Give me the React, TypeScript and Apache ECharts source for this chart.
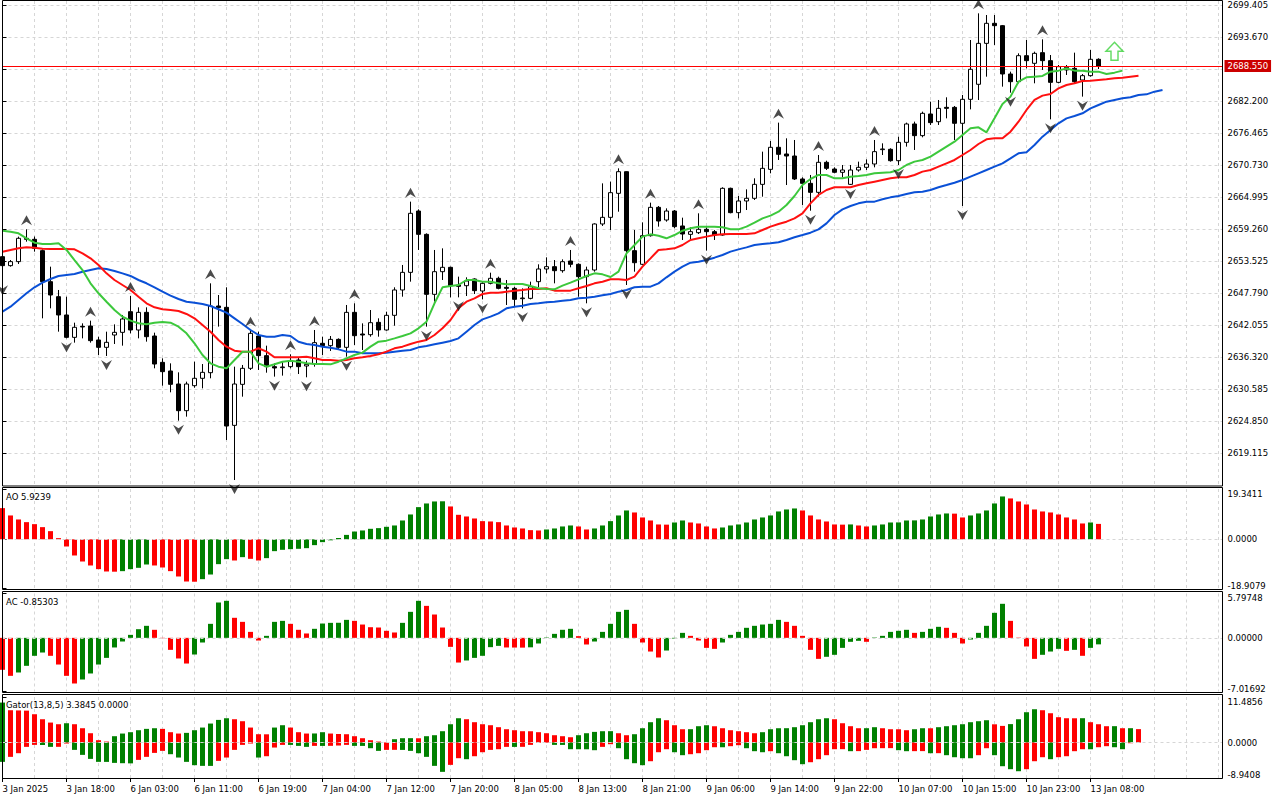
import React, { useEffect, useRef } from "react";
import * as echarts from "echarts";

// ---------- x axis (bar index j: 0 = first, partly hidden bar) ----------
const X_TICK_LABELS = [
  "3 Jan 2025", "3 Jan 18:00", "6 Jan 03:00", "6 Jan 11:00", "6 Jan 19:00", "7 Jan 04:00",
  "7 Jan 12:00", "7 Jan 20:00", "8 Jan 05:00", "8 Jan 13:00", "8 Jan 21:00", "9 Jan 06:00",
  "9 Jan 14:00", "9 Jan 22:00", "10 Jan 07:00", "10 Jan 15:00", "10 Jan 23:00", "13 Jan 08:00",
];
const BARS_PER_LABEL = 8;

// ---------- price axis ----------
const PRICE_TICKS = [
  2619.115, 2624.85, 2630.585, 2636.32, 2642.055, 2647.79, 2653.525, 2659.26,
  2664.995, 2670.73, 2676.465, 2682.2, 2687.935, 2693.67, 2699.405,
];
const PRICE_AXIS_MIN = 2613.29;
const PRICE_AXIS_MAX = 2700.21;
const LAST_PRICE = 2688.55;

// ---------- candles ----------
const OPEN = [
  2654.39, 2652.78, 2653.50, 2657.68, 2657.50, 2655.47, 2649.91, 2647.22, 2643.94, 2639.93,
  2641.90, 2641.96, 2639.46, 2638.14, 2640.35, 2640.83, 2644.53, 2641.25, 2644.41, 2640.17,
  2635.45, 2633.90, 2631.57, 2626.79, 2631.27, 2632.59, 2633.60, 2645.55, 2645.31, 2624.16,
  2631.51, 2634.38, 2640.17, 2636.65, 2634.68, 2634.50, 2634.68, 2635.87, 2634.80, 2635.15,
  2638.86, 2638.44, 2639.57, 2638.14, 2644.41, 2640.53, 2640.41, 2642.62, 2641.25, 2643.88,
  2648.42, 2651.58, 2662.57, 2658.39, 2647.64, 2651.70, 2652.48, 2649.31, 2649.19, 2650.39,
  2648.24, 2649.61, 2650.51, 2648.89, 2648.71, 2646.86, 2646.92, 2649.91, 2652.18, 2652.60,
  2651.88, 2653.61, 2653.02, 2650.81, 2652.00, 2660.25, 2661.44, 2665.74, 2669.62, 2655.47,
  2653.02, 2658.15, 2663.23, 2660.96, 2662.57, 2659.89, 2658.39, 2658.69, 2659.29, 2658.87,
  2658.27, 2666.64, 2662.28, 2664.37, 2664.85, 2667.35, 2670.04, 2673.99, 2672.79, 2672.43,
  2668.31, 2667.53, 2665.92, 2671.30, 2670.10, 2669.51, 2667.35, 2669.92, 2670.40, 2671.00,
  2673.57, 2673.63, 2671.59, 2674.88, 2678.17, 2676.08, 2679.96, 2678.58, 2681.15, 2681.15,
  2678.29, 2682.59, 2685.28, 2692.62, 2696.21, 2695.79, 2687.13, 2685.75, 2690.41, 2689.04,
  2690.95, 2689.52, 2685.63, 2687.85, 2688.14, 2686.05, 2686.83, 2689.76,
];
const CLOSE = [
  2652.78, 2653.50, 2657.68, 2657.50, 2655.88, 2649.91, 2647.52, 2643.94, 2639.93, 2641.73,
  2641.79, 2639.34, 2638.14, 2639.04, 2640.83, 2643.22, 2641.25, 2644.41, 2640.05, 2635.15,
  2633.78, 2631.51, 2626.79, 2631.57, 2632.59, 2633.66, 2645.55, 2645.25, 2624.04, 2631.57,
  2634.38, 2640.65, 2636.65, 2634.68, 2634.44, 2634.62, 2635.75, 2634.68, 2635.09, 2638.98,
  2638.44, 2639.57, 2638.14, 2644.41, 2640.23, 2640.35, 2642.56, 2641.25, 2643.88, 2648.42,
  2651.58, 2662.16, 2658.39, 2647.64, 2651.70, 2652.48, 2649.19, 2649.07, 2650.03, 2648.30,
  2649.61, 2650.51, 2648.71, 2648.71, 2646.74, 2646.98, 2649.01, 2652.18, 2652.60, 2651.88,
  2653.49, 2653.02, 2650.81, 2652.00, 2660.25, 2661.44, 2665.86, 2669.62, 2655.47, 2653.31,
  2658.15, 2663.23, 2660.78, 2662.57, 2659.77, 2658.45, 2658.87, 2659.29, 2658.87, 2658.27,
  2666.64, 2662.28, 2664.37, 2664.85, 2667.35, 2670.22, 2673.99, 2672.73, 2672.43, 2668.31,
  2667.53, 2665.92, 2671.30, 2670.22, 2669.51, 2669.92, 2669.92, 2670.40, 2671.00, 2673.21,
  2673.69, 2671.59, 2674.88, 2678.17, 2676.08, 2680.08, 2678.41, 2680.97, 2680.97, 2678.29,
  2682.59, 2687.97, 2692.62, 2696.21, 2695.79, 2687.13, 2685.75, 2690.41, 2689.52, 2690.83,
  2689.52, 2685.63, 2688.44, 2688.32, 2685.75, 2686.83, 2689.76, 2688.55,
];
const LOW = [
  2650.00, 2652.60, 2653.08, 2657.08, 2655.29, 2643.34, 2645.13, 2640.95, 2639.75, 2638.98,
  2639.75, 2638.98, 2636.77, 2636.59, 2638.74, 2638.44, 2640.65, 2639.75, 2639.16, 2634.38,
  2631.27, 2630.08, 2625.00, 2625.72, 2630.91, 2630.79, 2632.59, 2641.85, 2621.53, 2614.36,
  2629.30, 2634.08, 2634.08, 2633.60, 2632.89, 2633.07, 2634.38, 2633.36, 2632.77, 2634.68,
  2636.77, 2637.49, 2637.66, 2636.47, 2638.56, 2637.66, 2640.05, 2640.05, 2641.13, 2642.02,
  2647.22, 2649.91, 2655.59, 2641.85, 2646.33, 2650.21, 2647.10, 2647.10, 2647.34, 2647.70,
  2646.74, 2649.43, 2648.54, 2645.73, 2645.43, 2645.13, 2646.74, 2648.89, 2651.40, 2649.61,
  2651.52, 2652.48, 2647.22, 2646.03, 2651.70, 2659.89, 2659.17, 2662.45, 2649.31, 2651.70,
  2652.90, 2657.98, 2659.77, 2660.66, 2659.47, 2657.38, 2657.26, 2658.45, 2655.47, 2657.38,
  2658.15, 2662.16, 2661.26, 2662.75, 2664.55, 2665.14, 2669.33, 2671.72, 2667.23, 2668.13,
  2663.65, 2662.63, 2665.14, 2669.92, 2669.33, 2668.61, 2667.23, 2669.62, 2669.92, 2670.40,
  2672.61, 2671.42, 2670.82, 2674.11, 2673.51, 2675.78, 2677.99, 2677.99, 2679.18, 2675.30,
  2663.47, 2680.79, 2682.47, 2686.65, 2692.33, 2684.86, 2683.78, 2685.46, 2688.14, 2685.46,
  2687.85, 2679.00, 2685.46, 2686.95, 2685.46, 2683.07, 2686.65, 2688.02,
];
const HIGH = [
  2655.20, 2653.79, 2657.98, 2659.29, 2658.00, 2655.70, 2652.60, 2648.42, 2647.22, 2642.56,
  2642.44, 2642.92, 2640.05, 2640.95, 2642.26, 2643.94, 2647.34, 2645.31, 2645.31, 2640.77,
  2636.17, 2635.27, 2633.66, 2631.99, 2635.57, 2635.15, 2649.61, 2647.52, 2648.90, 2634.68,
  2634.98, 2641.13, 2640.95, 2638.44, 2635.27, 2635.69, 2636.89, 2636.29, 2635.75, 2641.25,
  2640.05, 2640.17, 2639.75, 2645.73, 2646.03, 2642.44, 2644.83, 2643.34, 2644.53, 2648.90,
  2652.90, 2664.25, 2662.87, 2658.57, 2655.59, 2655.88, 2652.60, 2650.81, 2650.69, 2650.51,
  2650.03, 2651.52, 2650.81, 2650.21, 2649.01, 2648.71, 2649.91, 2653.02, 2654.27, 2653.79,
  2653.91, 2655.59, 2653.19, 2652.60, 2660.37, 2667.53, 2667.83, 2670.22, 2669.68, 2659.17,
  2660.54, 2664.07, 2663.47, 2663.05, 2662.75, 2661.38, 2659.65, 2662.16, 2659.65, 2659.17,
  2666.82, 2666.76, 2665.26, 2666.46, 2668.43, 2673.21, 2675.12, 2678.41, 2675.60, 2675.30,
  2668.61, 2669.03, 2672.61, 2671.59, 2670.40, 2670.82, 2670.82, 2671.42, 2671.83, 2675.30,
  2674.70, 2673.81, 2675.90, 2678.41, 2678.59, 2680.38, 2682.17, 2682.47, 2682.95, 2681.39,
  2683.37, 2693.22, 2698.00, 2697.70, 2697.70, 2695.91, 2687.55, 2690.83, 2693.22, 2691.13,
  2693.34, 2690.53, 2688.74, 2688.74, 2690.95, 2687.13, 2691.43, 2689.94,
];

// ---------- Alligator (as plotted, shifted forward) ----------
const LIPS = [
  2659.05, 2658.87, 2658.58, 2657.68, 2656.89, 2656.66, 2656.66, 2656.79, 2655.59, 2653.79,
  2652.00, 2649.62, 2647.83, 2646.32, 2644.83, 2643.63, 2642.92, 2642.45, 2642.27, 2642.56,
  2642.68, 2642.56, 2641.84, 2640.66, 2638.87, 2636.77, 2635.28, 2634.67, 2634.38, 2635.87,
  2637.36, 2637.36, 2635.28, 2634.67, 2635.10, 2635.57, 2635.75, 2635.57, 2635.28, 2635.16,
  2635.15, 2635.09, 2635.57, 2636.17, 2636.77, 2637.19, 2638.26, 2639.16, 2639.34, 2639.75,
  2640.17, 2640.65, 2641.55, 2642.74, 2646.03, 2648.89, 2649.13, 2649.31, 2650.21, 2650.21,
  2649.91, 2649.91, 2649.61, 2649.43, 2649.49, 2649.49, 2649.13, 2648.72, 2648.60, 2648.54,
  2649.19, 2649.73, 2650.33, 2650.92, 2651.40, 2651.22, 2650.75, 2651.70, 2654.99, 2656.48,
  2657.98, 2658.39, 2658.15, 2657.68, 2658.27, 2659.05, 2659.47, 2659.77, 2659.77, 2659.77,
  2659.65, 2659.29, 2659.29, 2659.77, 2660.48, 2661.26, 2661.74, 2662.45, 2663.65, 2665.26,
  2667.23, 2668.31, 2669.03, 2669.03, 2668.43, 2668.43, 2668.73, 2668.85, 2669.03, 2669.33,
  2669.45, 2669.51, 2669.92, 2670.82, 2671.42, 2671.72, 2672.31, 2673.21, 2674.11, 2675.00,
  2676.20, 2677.39, 2677.57, 2676.67, 2679.18, 2681.75, 2683.07, 2685.75, 2686.53, 2686.65,
  2686.77, 2687.55, 2687.73, 2688.14, 2687.73, 2687.73, 2687.55, 2687.55, 2687.13, 2687.37,
  2687.73,
];
const TEETH = [
  2655.28, 2655.59, 2655.89, 2656.07, 2655.99, 2655.82, 2655.77, 2655.77, 2655.77, 2655.71,
  2654.99, 2654.10, 2652.90, 2651.40, 2650.21, 2649.31, 2648.42, 2647.22, 2646.03, 2645.31,
  2644.96, 2644.83, 2644.65, 2644.12, 2643.34, 2642.14, 2640.94, 2639.46, 2638.25, 2637.54,
  2637.36, 2637.36, 2637.97, 2637.36, 2636.36, 2636.36, 2636.36, 2636.36, 2636.47, 2636.18,
  2635.87, 2635.87, 2635.75, 2635.87, 2636.17, 2636.35, 2636.59, 2636.89, 2637.37, 2637.96,
  2638.26, 2638.74, 2639.16, 2639.46, 2640.35, 2641.55, 2643.04, 2645.13, 2646.33, 2646.92,
  2647.70, 2647.94, 2647.94, 2648.12, 2648.30, 2648.42, 2648.60, 2648.60, 2648.72, 2648.30,
  2648.30, 2648.30, 2648.72, 2649.13, 2649.61, 2649.91, 2650.33, 2650.33, 2650.21, 2650.81,
  2652.60, 2654.09, 2655.59, 2655.70, 2655.88, 2656.48, 2657.38, 2657.68, 2657.98, 2658.27,
  2658.39, 2658.45, 2658.45, 2658.45, 2658.57, 2659.17, 2659.77, 2660.25, 2660.66, 2661.26,
  2662.16, 2663.95, 2665.44, 2666.34, 2666.82, 2666.82, 2666.82, 2667.23, 2667.53, 2667.83,
  2668.13, 2668.43, 2668.61, 2668.61, 2669.03, 2669.63, 2669.92, 2670.52, 2671.12, 2671.72,
  2672.61, 2673.51, 2674.58, 2675.42, 2675.60, 2675.60, 2676.79, 2678.58, 2680.68, 2682.47,
  2683.25, 2683.54, 2684.56, 2685.16, 2685.46, 2685.87, 2685.93, 2686.05, 2686.17, 2686.35,
  2686.47, 2686.65, 2686.83,
];
const JAW = [
  2644.53, 2645.43, 2646.63, 2647.83, 2648.90, 2649.73, 2650.39, 2650.93, 2651.11, 2651.29,
  2651.70, 2652.00, 2652.30, 2652.18, 2651.82, 2651.40, 2650.93, 2650.21, 2649.62, 2648.90,
  2648.11, 2647.40, 2646.80, 2646.32, 2646.14, 2645.91, 2645.55, 2644.96, 2644.35, 2643.34,
  2642.32, 2641.25, 2640.35, 2640.05, 2640.05, 2640.35, 2640.17, 2639.15, 2638.74, 2638.56,
  2638.26, 2638.08, 2637.78, 2637.37, 2637.37, 2637.07, 2637.07, 2637.07, 2637.19, 2637.37,
  2637.55, 2637.66, 2638.14, 2638.38, 2638.68, 2638.98, 2639.28, 2639.75, 2640.95, 2642.15,
  2643.16, 2643.64, 2644.24, 2645.13, 2645.43, 2645.61, 2645.91, 2646.03, 2646.21, 2646.33,
  2646.51, 2646.63, 2646.92, 2647.04, 2647.22, 2647.46, 2647.70, 2648.12, 2648.42, 2648.90,
  2649.01, 2649.01, 2649.61, 2650.69, 2651.70, 2652.60, 2653.31, 2653.49, 2653.79, 2654.21,
  2654.69, 2655.29, 2655.70, 2656.06, 2656.48, 2656.66, 2656.78, 2656.96, 2657.38, 2657.86,
  2658.27, 2658.69, 2659.29, 2660.36, 2661.86, 2662.87, 2663.47, 2663.95, 2664.25, 2664.25,
  2664.67, 2665.02, 2665.26, 2665.62, 2665.92, 2666.04, 2666.34, 2666.82, 2667.23, 2667.65,
  2668.13, 2668.73, 2669.33, 2669.92, 2670.52, 2671.12, 2672.01, 2672.91, 2673.09, 2674.40,
  2675.90, 2677.09, 2678.29, 2679.18, 2679.60, 2680.08, 2680.97, 2681.57, 2682.17, 2682.47,
  2682.77, 2682.95, 2683.37, 2683.48, 2683.96, 2684.26,
];

// ---------- Fractals (bar indices) and signal arrow ----------
const FRACTAL_UP = [3, 11, 16, 26, 31, 36, 39, 44, 51, 61, 71, 77, 81, 87, 97, 102, 109, 122, 130];
const FRACTAL_DOWN = [0, 8, 13, 22, 29, 34, 38, 43, 53, 57, 60, 65, 73, 78, 88, 101, 106, 112, 120, 126, 131, 135];
const SIGNAL_ARROW = [[139, 2691.2]];

// ---------- Awesome Oscillator ----------
const AO = [
  11.99, 9.17, 7.63, 6.60, 5.83, 4.68, 3.14, 0.45, -2.76, -6.22,
  -8.53, -10.06, -11.47, -12.37, -12.45, -12.24, -11.47, -10.96, -9.68, -10.06,
  -10.83, -12.24, -14.29, -16.22, -16.30, -15.32, -13.53, -9.55, -7.63, -8.14,
  -6.86, -7.50, -8.14, -7.24, -4.55, -4.04, -3.78, -3.65, -3.40, -2.24,
  -1.09, -0.38, 0.50, 1.70, 2.99, 3.40, 4.04, 4.30, 4.81, 5.32,
  7.24, 9.55, 12.37, 13.78, 14.55, 14.62, 12.63, 9.42, 8.78, 8.01,
  6.99, 6.86, 6.60, 5.32, 4.55, 4.17, 3.53, 3.40, 3.78, 4.17,
  4.94, 5.32, 4.94, 3.78, 4.17, 5.32, 6.99, 9.17, 11.09, 10.32,
  8.40, 7.24, 5.71, 5.64, 6.47, 7.24, 6.47, 6.09, 4.94, 4.17,
  4.55, 5.32, 5.71, 6.47, 7.63, 8.40, 9.17, 10.71, 11.47, 11.86,
  11.09, 9.17, 7.63, 6.86, 5.71, 5.64, 5.72, 5.32, 4.94, 5.32,
  5.71, 6.47, 6.50, 7.24, 7.28, 7.63, 8.78, 9.55, 9.94, 9.87,
  8.40, 9.17, 9.94, 11.09, 13.78, 16.47, 15.71, 14.55, 13.40, 11.47,
  10.71, 10.32, 9.55, 8.40, 7.63, 6.09, 6.47, 5.9239,
];
const AO_SCALE = [-18.9079, 0, 19.3411];

// ---------- Accelerator Oscillator ----------
const AC = [
  -4.18, -4.97, -4.53, -3.66, -2.35, -1.92, -2.35, -3.49, -4.97, -5.97,
  -5.45, -4.66, -3.49, -2.62, -1.26, -0.48, 0.39, 1.13, 1.57, 1.05,
  -0.05, -1.57, -2.70, -3.36, -2.18, -0.61, 1.83, 4.62, 4.84, 2.62,
  2.09, 0.78, -0.35, 0.26, 2.09, 2.22, 1.83, 1.05, 0.57, 1.18,
  1.87, 1.96, 1.97, 2.35, 2.22, 1.74, 1.39, 1.35, 0.92, 0.70,
  1.96, 3.40, 4.84, 4.18, 3.05, 1.35, -1.18, -3.23, -2.96, -2.62,
  -2.35, -1.22, -1.05, -1.26, -1.27, -1.28, -1.24, -0.74, 0.05, 0.52,
  1.05, 1.18, 0.22, -0.87, -0.48, 0.78, 1.83, 3.40, 3.66, 1.83,
  -0.61, -1.79, -2.57, -1.66, -0.09, 0.65, 0.26, -0.35, -1.31, -1.44,
  -0.61, 0.39, 0.78, 1.31, 1.57, 1.74, 1.83, 2.35, 2.09, 1.57,
  0.26, -1.57, -2.75, -2.48, -2.22, -1.31, -0.52, -0.39, -0.52, 0.05,
  0.26, 0.78, 0.92, 1.05, 0.65, 0.78, 1.18, 1.44, 1.31, 0.65,
  -0.74, -0.22, 0.65, 1.57, 3.27, 4.45, 2.22, 0.04, -1.13, -2.75,
  -2.22, -1.79, -1.44, -1.70, -1.57, -2.35, -1.31, -0.85303,
];
const AC_SCALE = [-7.01692, 0, 5.79748];

// ---------- Gator Oscillator ----------
const GATOR_UP = [
  10.08, 8.15, 8.10, 8.05, 7.14, 5.88, 5.04, 4.62, 4.87, 4.62,
  3.61, 2.35, 0.59, 0.25, 1.60, 2.27, 2.61, 3.11, 3.45, 3.61,
  3.45, 2.61, 2.27, 2.44, 3.11, 3.78, 4.79, 5.71, 6.13, 5.88,
  5.38, 3.78, 2.10, 2.08, 3.78, 4.37, 3.78, 2.61, 2.27, 2.29,
  2.61, 2.27, 2.15, 2.10, 1.60, 1.09, 0.59, 0.25, 0.05, 0.84,
  1.09, 1.10, 1.08, 1.60, 1.85, 2.86, 4.62, 6.13, 5.88, 5.13,
  4.62, 4.37, 3.87, 3.36, 3.11, 2.86, 2.85, 2.61, 2.35, 1.85,
  1.60, 1.34, 1.85, 2.35, 2.69, 2.86, 2.87, 2.35, 1.85, 2.10,
  3.61, 5.13, 6.13, 5.63, 4.37, 3.36, 3.37, 4.12, 4.37, 4.11,
  3.61, 3.11, 2.86, 2.61, 2.35, 2.61, 3.36, 3.61, 3.62, 3.87,
  4.37, 5.13, 5.88, 6.13, 5.88, 4.87, 4.12, 3.61, 3.62, 3.87,
  3.61, 3.36, 3.35, 3.11, 3.36, 3.61, 3.60, 3.87, 4.12, 4.37,
  4.62, 5.13, 5.38, 5.63, 4.60, 4.20, 4.65, 5.88, 7.65, 8.40,
  8.15, 7.39, 6.39, 6.13, 6.12, 6.14, 5.13, 4.62, 4.12, 4.13,
  3.61, 3.62, 3.3845,
];
const GATOR_DOWN = [
  -4.87, -3.61, -2.69, -1.09, -0.59, -0.62, -1.09, -1.08, -0.25, -1.85,
  -3.11, -4.12, -4.87, -4.88, -5.13, -5.21, -5.25, -4.37, -3.61, -2.61,
  -2.10, -2.94, -3.78, -4.87, -5.71, -5.88, -5.89, -4.62, -3.78, -1.85,
  -0.59, -0.25, -3.78, -3.45, -1.26, -0.59, -0.60, -0.84, -1.09, -0.84,
  -0.85, -0.83, -0.75, -0.59, -0.84, -0.85, -1.43, -2.10, -1.85, -1.84,
  -1.86, -2.10, -2.69, -3.61, -5.88, -7.39, -5.63, -3.95, -4.20, -3.45,
  -2.44, -1.85, -1.68, -1.09, -1.10, -1.08, -0.59, -0.08, -0.05, -0.59,
  -0.60, -1.68, -1.69, -1.70, -1.93, -1.09, -0.42, -1.43, -4.20, -5.21,
  -5.71, -4.71, -2.44, -1.68, -2.44, -3.19, -2.94, -2.69, -1.93, -1.18,
  -1.19, -0.92, -0.67, -1.43, -2.18, -2.44, -2.18, -2.69, -3.45, -4.45,
  -5.46, -4.96, -4.20, -3.19, -1.68, -1.67, -2.18, -2.16, -1.85, -1.43,
  -1.42, -1.41, -1.93, -2.18, -2.17, -2.16, -2.69, -2.68, -3.19, -3.70,
  -3.95, -3.96, -3.19, -1.43, -3.19, -5.97, -6.72, -7.23, -6.72, -4.71,
  -3.70, -4.20, -3.69, -3.45, -2.18, -1.68, -1.69, -1.18, -0.92, -1.18,
  -1.68, -0.17, 0,
];
const GATOR_SCALE = [-8.9408, 0, 11.4856];

// ---------- styling ----------
const FONT = "DejaVu Sans";
const FS = 8.5;
const GRID_COLOR = "#d6d6d6";
const UP_COLOR = "#008000";
const DOWN_COLOR = "#ff0000";
const LIPS_COLOR = "#3cc83c";
const TEETH_COLOR = "#ff1010";
const JAW_COLOR = "#0a50d6";
const X_MAX = 152.5;
// price labels hidden under the last-price tag (as in the terminal)
const PRICE_TAG_HALF_RANGE = 1.6;

const UP_PATH = "path://M5.5,0L11,10L5.5,6.5L0,10Z";
const DOWN_PATH = "path://M0,0L5.5,3.5L11,0L5.5,10Z";
const SIGNAL_PATH = "path://M8.5,0L17,9L12,9L12,18L5,18L5,9L0,9Z";

function colored(values: number[], useAbs: boolean, firstUp: boolean) {
  return values.map((v, j) => {
    const cur = useAbs ? Math.abs(v) : v;
    let up = firstUp;
    if (j > 0) {
      const prev = useAbs ? Math.abs(values[j - 1]) : values[j - 1];
      up = cur > prev;
    }
    return { value: [j, v], itemStyle: { color: up ? UP_COLOR : DOWN_COLOR } };
  });
}

const dashed = { color: GRID_COLOR, type: [3, 3] as any, width: 1 };
const textBase = { fontFamily: FONT, fontSize: FS, color: "#000" };

function subYAxis(gi: number, scale: number[], decimals: number) {
  return {
    type: "value",
    gridIndex: gi,
    position: "right",
    min: scale[0],
    max: scale[2],
    axisLine: { show: false },
    splitLine: { show: false },
    axisTick: { show: true, customValues: scale, length: 4, lineStyle: { color: "#000" } },
    axisLabel: {
      show: true,
      customValues: scale,
      margin: 5,
      hideOverlap: false,
      ...textBase,
      formatter: (v: number) => {
        const s = v.toFixed(decimals);
        if (Math.abs(v - scale[2]) < 1e-9) return `{t|${s}}`;
        if (Math.abs(v - scale[0]) < 1e-9) return `{b|${s}}`;
        return s;
      },
      rich: {
        t: { ...textBase, padding: [9.5, 0, 0, 0] },
        b: { ...textBase, padding: [0, 0, 5.5, 0] },
      },
    },
  };
}

function baseX(gi: number) {
  return {
    type: "value",
    gridIndex: gi,
    min: 0,
    max: X_MAX,
    interval: 4,
    axisLine: { show: false },
    axisTick: { show: false },
    axisLabel: { show: false },
    splitLine: { show: true, lineStyle: dashed },
  };
}

const zeroLine = {
  silent: true,
  symbol: ["none", "none"],
  label: { show: false },
  lineStyle: dashed,
  data: [{ yAxis: 0 }],
};

function buildOption() {
  const tickIdx = X_TICK_LABELS.map((_, i) => i * BARS_PER_LABEL);
  const priceLabelValues = PRICE_TICKS.filter((v) => Math.abs(v - LAST_PRICE) > PRICE_TAG_HALF_RANGE);
  const grids = [
    { top: 1, height: 485 },
    { top: 489, height: 99.5 },
    { top: 593.5, height: 98 },
    { top: 697, height: 81 },
  ].map((g) => ({
    left: 2.5,
    width: 1220,
    top: g.top,
    height: g.height,
    containLabel: false,
    outerBoundsMode: "none",
    show: false,
  }));

  const frames = [
    [0.5, 485.5],
    [487.5, 102],
    [591.5, 101],
    [694.5, 84],
  ].map(([y, h]) => ({
    type: "rect",
    silent: true,
    z: 100,
    shape: { x: 2.5, y, width: 1220, height: h },
    style: { fill: "none", stroke: "#000", lineWidth: 1 },
  }));

  const titles = [
    { y: 496.5, text: `AO ${AO[AO.length - 1].toFixed(4)}` },
    { y: 601.5, text: `AC ${AC[AC.length - 1].toFixed(5)}` },
    {
      y: 704.5,
      text: `Gator(13,8,5) ${GATOR_UP[GATOR_UP.length - 1].toFixed(4)} ${Math.abs(
        GATOR_DOWN[GATOR_DOWN.length - 1]
      ).toFixed(4)}`,
    },
  ].map((t) => ({
    type: "text",
    silent: true,
    z: 101,
    x: 6,
    y: t.y,
    style: { text: t.text, fill: "#000", font: `${FS}px "${FONT}"`, verticalAlign: "middle", align: "left" },
  }));

  return {
    animation: false,
    backgroundColor: "#ffffff",
    grid: grids,
    xAxis: [
      baseX(0),
      baseX(1),
      baseX(2),
      baseX(3),
      {
        type: "value",
        gridIndex: 3,
        position: "bottom",
        min: 0,
        max: X_MAX,
        axisLine: { show: false },
        splitLine: { show: false },
        axisTick: { show: true, customValues: tickIdx, length: 4, lineStyle: { color: "#000" } },
        axisLabel: {
          show: true,
          customValues: tickIdx,
          align: "left",
          margin: 6,
          hideOverlap: false,
          ...textBase,
          formatter: (v: number) => X_TICK_LABELS[Math.round(v / BARS_PER_LABEL)] || "",
        },
      },
    ],
    yAxis: [
      {
        type: "value",
        gridIndex: 0,
        position: "right",
        min: PRICE_AXIS_MIN,
        max: PRICE_AXIS_MAX,
        axisLine: { show: false },
        axisTick: { show: true, customValues: PRICE_TICKS, length: 4, lineStyle: { color: "#000" } },
        axisLabel: {
          show: true,
          customValues: priceLabelValues,
          margin: 5,
          hideOverlap: false,
          ...textBase,
          formatter: (v: number) => v.toFixed(3),
        },
        splitLine: { show: true, lineStyle: dashed },
      },
      subYAxis(1, AO_SCALE, 4),
      subYAxis(2, AC_SCALE, 5),
      subYAxis(3, GATOR_SCALE, 4),
    ],
    series: [
      {
        type: "candlestick",
        xAxisIndex: 0,
        yAxisIndex: 0,
        z: 2,
        silent: true,
        barWidth: 4,
        encode: { x: 0, y: [1, 2, 3, 4] },
        data: OPEN.map((o, j) => [j, o, CLOSE[j], LOW[j], HIGH[j]]),
        itemStyle: {
          color: "#ffffff",
          color0: "#000000",
          borderColor: "#000000",
          borderColor0: "#000000",
          borderWidth: 1,
        },
        markLine: {
          silent: true,
          symbol: ["none", "none"],
          lineStyle: { color: "#ff0000", width: 1, type: "solid" },
          label: {
            show: true,
            position: "end",
            distance: 2,
            formatter: () => LAST_PRICE.toFixed(3),
            backgroundColor: "#cc0000",
            color: "#ffffff",
            fontFamily: FONT,
            fontSize: FS,
            padding: [2, 3, 1, 3],
          },
          data: [{ yAxis: LAST_PRICE }],
        },
      },
      {
        type: "line",
        xAxisIndex: 0,
        yAxisIndex: 0,
        z: 3,
        silent: true,
        symbol: "none",
        data: JAW.map((v, j) => [j, v]),
        lineStyle: { color: JAW_COLOR, width: 2 },
      },
      {
        type: "line",
        xAxisIndex: 0,
        yAxisIndex: 0,
        z: 3,
        silent: true,
        symbol: "none",
        data: TEETH.map((v, j) => [j, v]),
        lineStyle: { color: TEETH_COLOR, width: 2 },
      },
      {
        type: "line",
        xAxisIndex: 0,
        yAxisIndex: 0,
        z: 3,
        silent: true,
        symbol: "none",
        data: LIPS.map((v, j) => [j, v]),
        lineStyle: { color: LIPS_COLOR, width: 2 },
      },
      {
        type: "scatter",
        xAxisIndex: 0,
        yAxisIndex: 0,
        z: 4,
        silent: true,
        symbol: UP_PATH,
        symbolSize: [11, 10],
        symbolOffset: [0, -9],
        itemStyle: { color: "#1e1e1e" },
        data: FRACTAL_UP.map((j) => [j, HIGH[j]]),
      },
      {
        type: "scatter",
        xAxisIndex: 0,
        yAxisIndex: 0,
        z: 4,
        silent: true,
        symbol: DOWN_PATH,
        symbolSize: [11, 10],
        symbolOffset: [0, 9],
        itemStyle: { color: "#1e1e1e" },
        data: FRACTAL_DOWN.map((j) => [j, LOW[j]]),
      },
      {
        type: "scatter",
        xAxisIndex: 0,
        yAxisIndex: 0,
        z: 5,
        silent: true,
        symbol: SIGNAL_PATH,
        symbolSize: [17, 18],
        itemStyle: { color: "#ffffff", borderColor: "#3cd23c", borderWidth: 1.5 },
        data: SIGNAL_ARROW,
      },
      {
        type: "bar",
        xAxisIndex: 1,
        yAxisIndex: 1,
        silent: true,
        barWidth: 5,
        data: colored(AO, false, false),
        markLine: zeroLine,
      },
      {
        type: "bar",
        xAxisIndex: 2,
        yAxisIndex: 2,
        silent: true,
        barWidth: 5,
        data: colored(AC, false, false),
        markLine: zeroLine,
      },
      {
        type: "bar",
        xAxisIndex: 3,
        yAxisIndex: 3,
        silent: true,
        barWidth: 5,
        barGap: "-100%",
        data: colored(GATOR_UP, false, true),
        markLine: zeroLine,
      },
      {
        type: "bar",
        xAxisIndex: 3,
        yAxisIndex: 3,
        silent: true,
        barWidth: 5,
        barGap: "-100%",
        data: colored(GATOR_DOWN, true, true),
      },
    ],
    graphic: [...frames, ...titles],
  };
}

export default function App() {
  const ref = useRef<HTMLDivElement>(null);
  useEffect(() => {
    if (!ref.current) return;
    const chart = echarts.init(ref.current, null, { renderer: "svg" });
    chart.setOption(buildOption() as any);
    return () => chart.dispose();
  }, []);
  return (
    <div
      ref={ref}
      style={{ position: "absolute", left: 0, top: 0, width: 1280, height: 800, background: "#ffffff" }}
    />
  );
}
